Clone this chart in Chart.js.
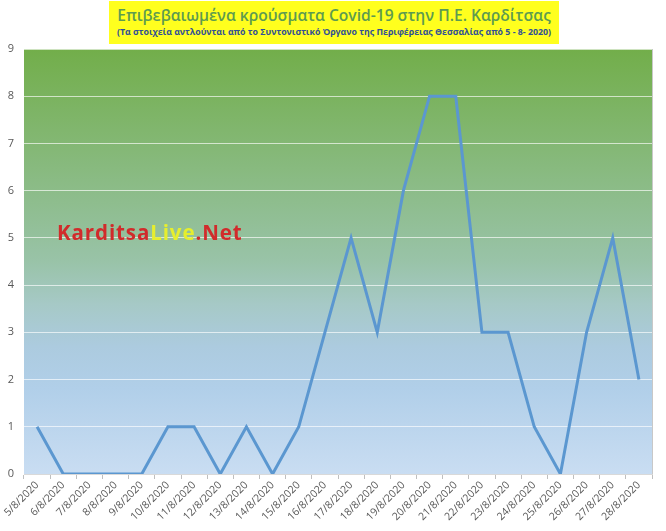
<!DOCTYPE html>
<html>
<head>
<meta charset="utf-8">
<script src="https://cdn.jsdelivr.net/npm/chart.js@4"></script>
<style>
  html, body { margin: 0; padding: 0; background: #fff; }
  #wrap { position: relative; width: 666px; height: 531px; }
  #titleBox {
    position: absolute; left: 109px; top: 1px; width: 450px; height: 43px;
    background: #ffff1e; text-align: center; font-family: "Open Sans", sans-serif;
  }
  #titleBox .main { font-size: 15.6px; font-weight: 600; color: #5d9b50; line-height: 22px; padding-top: 3px; white-space: nowrap; }
  #titleBox .sub { font-size: 8.8px; font-weight: 700; color: #2f4f96; line-height: 13px; white-space: nowrap; }
  #mark {
    position: absolute; left: 57px; top: 218px; font-family: "Open Sans", sans-serif;
    font-weight: 700; font-size: 20.5px; color: #d12b2b; white-space: nowrap; letter-spacing: 0.9px;
  }
  #mark span { color: #e6ee2e; }
</style>
</head>
<body>
<div id="wrap">
  <canvas id="myChart" width="666" height="531"></canvas>
  <div id="titleBox">
    <div class="main">Επιβεβαιωμένα κρούσματα Covid-19 στην Π.Ε. Καρδίτσας</div>
    <div class="sub">(Τα στοιχεία αντλούνται από το Συντονιστικό Όργανο της Περιφέρειας Θεσσαλίας από 5 - 8- 2020)</div>
  </div>
  <div id="mark">Karditsa<span>Live</span>.Net</div>
</div>
<script>
const dates = ["5/8/2020", "6/8/2020", "7/8/2020", "8/8/2020", "9/8/2020", "10/8/2020",
  "11/8/2020", "12/8/2020", "13/8/2020", "14/8/2020", "15/8/2020", "16/8/2020",
  "17/8/2020", "18/8/2020", "19/8/2020", "20/8/2020", "21/8/2020", "22/8/2020",
  "23/8/2020", "24/8/2020", "25/8/2020", "26/8/2020", "27/8/2020", "28/8/2020"];
const cases = [1, 0, 0, 0, 0, 1, 1, 0, 1, 0, 1, 3, 5, 3, 6, 8, 8, 3, 3, 1, 0, 3, 5, 2];
const yTicks = [0, 1, 2, 3, 4, 5, 6, 7, 8, 9];

// gradient behind the plot area, like the excel chart
const plotBackground = {
  id: "plotBackground",
  beforeDraw: (chart) => {
    const { ctx, chartArea: a } = chart;
    const g = ctx.createLinearGradient(0, a.top, 0, a.bottom);
    g.addColorStop(0, "#72ae4a");
    g.addColorStop(0.5, "#99c3a8");
    g.addColorStop(0.6, "#a6c9c6");
    g.addColorStop(0.7, "#accbdf");
    g.addColorStop(0.8, "#b1cfe9");
    g.addColorStop(1, "#c9ddf2");
    ctx.save();
    ctx.fillStyle = g;
    ctx.fillRect(a.left, a.top, a.right - a.left, a.bottom - a.top);
    ctx.strokeStyle = "#c8c8c8";
    ctx.lineWidth = 1;
    ctx.beginPath();
    ctx.moveTo(a.right + 0.5, a.top);
    ctx.lineTo(a.right + 0.5, a.bottom);
    ctx.stroke();
    ctx.restore();
  },
};

const ctx = document.getElementById("myChart").getContext("2d");
const myChart = new Chart(ctx, {
  type: "line",
  data: {
    labels: dates,
    datasets: [
      {
        data: cases,
        borderColor: "#5b97d0",
        borderWidth: 3,
        pointRadius: 0,
        tension: 0,
        fill: false,
      },
    ],
  },
  options: {
    responsive: false,
    animation: false,
    layout: { padding: { top: 49, right: 14, left: 0, bottom: 0 } },
    plugins: { legend: { display: false }, tooltip: { enabled: false } },
    scales: {
      x: {
        offset: true,
        afterFit: (scale) => { scale.height = 57; },
        grid: {
          offset: true,
          drawOnChartArea: false,
          tickLength: 5,
          color: "#bfbfbf",
        },
        border: { color: "#d9d9d9" },
        ticks: {
          autoSkip: false,
          minRotation: 45,
          maxRotation: 45,
          padding: 0,
          color: "#595959",
          font: { family: "Open Sans", size: 10.5 },
        },
      },
      y: {
        min: 0,
        max: 9,
        afterFit: (scale) => { scale.width = 24; },
        afterBuildTicks: (scale) => { scale.ticks = yTicks.map((v) => ({ value: v })); },
        grid: { color: "rgba(255,255,255,0.65)", drawTicks: false },
        border: { display: false },
        ticks: {
          padding: 10,
          color: "#595959",
          font: { family: "Open Sans", size: 11 },
        },
      },
    },
  },
  plugins: [plotBackground],
});
</script>
</body>
</html>
